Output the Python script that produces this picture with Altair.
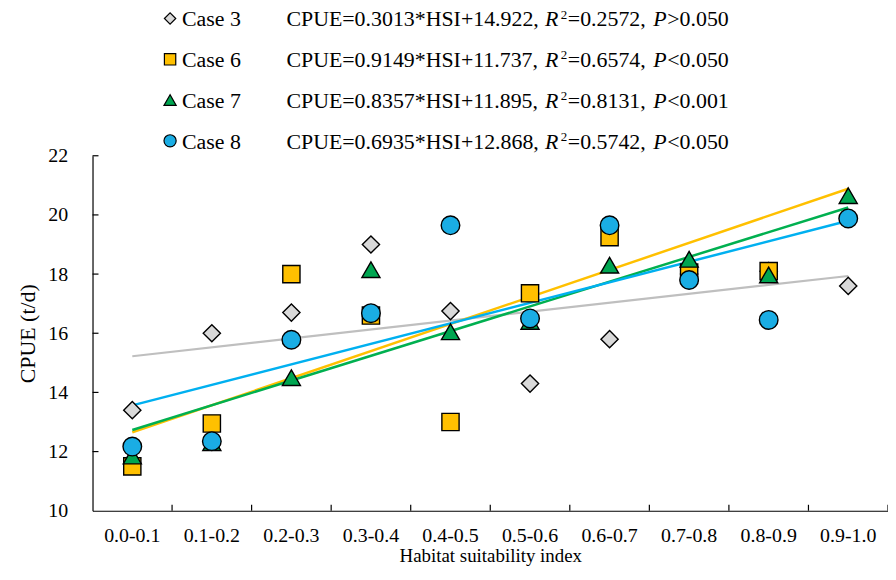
import altair as alt
import pandas as pd

# ---------------- data ----------------
categories = ["0.0-0.1", "0.1-0.2", "0.2-0.3", "0.3-0.4", "0.4-0.5",
              "0.5-0.6", "0.6-0.7", "0.7-0.8", "0.8-0.9", "0.9-1.0"]
case_names = ["Case 3", "Case 6", "Case 7", "Case 8"]
case3 = [13.4, 16.0, 16.7, 19.0, 16.75, 14.3, 15.8, 18.0, 18.1, 17.6]
case6 = [11.5, 12.95, 18.0, 16.6, 13.0, 17.35, 19.25, 18.05, 18.1, 22.9]
case7 = [11.85, 12.3, 14.5, 18.15, 16.05, 16.4, 18.3, 18.5, 17.97, 20.65]
case8 = [12.17, 12.35, 15.78, 16.68, 19.65, 16.5, 19.65, 17.8, 16.45, 19.88]
slopes = [0.3013, 0.9149, 0.8357, 0.6935]
intercepts = [14.922, 11.737, 11.895, 12.868]
r2_values = ["0.2572", "0.6574", "0.8131", "0.5742"]
p_values = [">0.050", "<0.050", "<0.001", "<0.050"]
y_ticks = [10, 12, 14, 16, 18, 20, 22]

# ---------------- styles ----------------
shapes = ["diamond", "square", "triangle-up", "circle"]
fills = ["#D9D9D9", "#FFC000", "#00A651", "#1AADE4"]
line_colors = ["#BFBFBF", "#FFC000", "#00B050", "#00B0F0"]
sizes = [300, 300, 330, 350]
legend_sizes = [130, 130, 150, 150]
FONT = "Liberation Serif"
W, H = 800, 357

series = [case3, case6, case7, case8]

x_scale = alt.Scale(domain=categories, paddingInner=0, paddingOuter=0)
y_scale = alt.Scale(domain=[10, 22], nice=False, zero=False)
x_axis = alt.Axis(labelAngle=0, ticks=False, domainColor="black", domainWidth=1.2,
                  labelFont=FONT, labelFontSize=20, labelColor="black", labelPadding=15,
                  title="Habitat suitability index", titleFont=FONT, titleFontSize=19,
                  titleFontWeight="normal", titleColor="black", titleBaseline="top",
                  titleX=W / 2, titleY=36, grid=False)
y_axis = alt.Axis(values=y_ticks, ticks=False, domainColor="black", domainWidth=1.2,
                  labelFont=FONT, labelFontSize=20, labelColor="black", labelPadding=25,
                  title="CPUE (t/d)", titleFont=FONT, titleFontSize=22,
                  titleFontWeight="normal", titleColor="black", titleAngle=-90,
                  titleBaseline="middle", titleAlign="center", titleX=-65, titleY=H / 2,
                  grid=False)

x_enc = alt.X("cat:N", sort=categories, scale=x_scale, axis=x_axis)
y_enc = alt.Y("value:Q", scale=y_scale, axis=y_axis)

layers = []

# regression lines (from the equations shown)
for i, name in enumerate(case_names):
    ldf = pd.DataFrame({
        "cat": [categories[0], categories[-1]],
        "value": [slopes[i] * 1 + intercepts[i], slopes[i] * 10 + intercepts[i]],
    })
    layers.append(
        alt.Chart(ldf).mark_line(color=line_colors[i], strokeWidth=2.5 if i else 2.2)
        .encode(x=x_enc, y=y_enc)
    )

# points
for i, name in enumerate(case_names):
    pdf = pd.DataFrame({"cat": categories, "value": series[i]})
    layers.append(
        alt.Chart(pdf).mark_point(shape=shapes[i], filled=True, fill=fills[i], stroke="black",
                                  strokeWidth=1.4, size=sizes[i], opacity=1, clip=True)
        .encode(x=x_enc, y=y_enc)
    )

# inward ticks
ytick_df = pd.DataFrame({"value": y_ticks[1:]})
layers.append(
    alt.Chart(ytick_df).mark_rule(color="black", strokeWidth=1.2)
    .encode(y=y_enc, x=alt.value(0), x2=alt.value(6))
)
xtick_df = pd.DataFrame({"cat": categories})
layers.append(
    alt.Chart(xtick_df).mark_rule(color="black", strokeWidth=1.2)
    .encode(x=alt.X("cat:N", sort=categories, scale=x_scale, axis=x_axis, bandPosition=1),
            y=alt.value(H), y2=alt.value(H - 6))
)

# legend rows above the plot
for i, name in enumerate(case_names):
    cy = -138 + 41 * i
    base_y = cy + 8
    one = pd.DataFrame({"k": [0]})
    layers.append(
        alt.Chart(one).mark_point(shape=shapes[i], filled=True, fill=fills[i], stroke="black",
                                  strokeWidth=1.2, size=legend_sizes[i], opacity=1)
        .encode(x=alt.value(78), y=alt.value(cy))
    )
    segs = [
        (name, 90, "normal", 22, 0),
        (f"CPUE={slopes[i]:.4f}*HSI+{intercepts[i]:.3f},", 195, "normal", 22, 0),
        ("R", 455, "italic", 22, 0),
        ("2", 471, "normal", 13, -8),
        (f"={r2_values[i]},", 478, "normal", 22, 0),
        ("P", 564, "italic", 22, 0),
        (p_values[i], 578, "normal", 22, 0),
    ]
    for text, sx, style, fs, dy in segs:
        tdf = pd.DataFrame({"t": [text]})
        layers.append(
            alt.Chart(tdf).mark_text(font=FONT, fontSize=fs, fontStyle=style, align="left",
                                     baseline="alphabetic", color="black")
            .encode(text="t:N", x=alt.value(sx), y=alt.value(base_y + dy))
        )

chart = alt.layer(*layers).properties(
    width=W, height=H,
    autosize=alt.AutoSizeParams(type="none"),
    padding={"left": 85, "top": 147, "right": 0, "bottom": 58},
    background="white",
).configure_view(stroke=None)

chart.save("out.html", embed_options={"renderer": "svg", "actions": False})
